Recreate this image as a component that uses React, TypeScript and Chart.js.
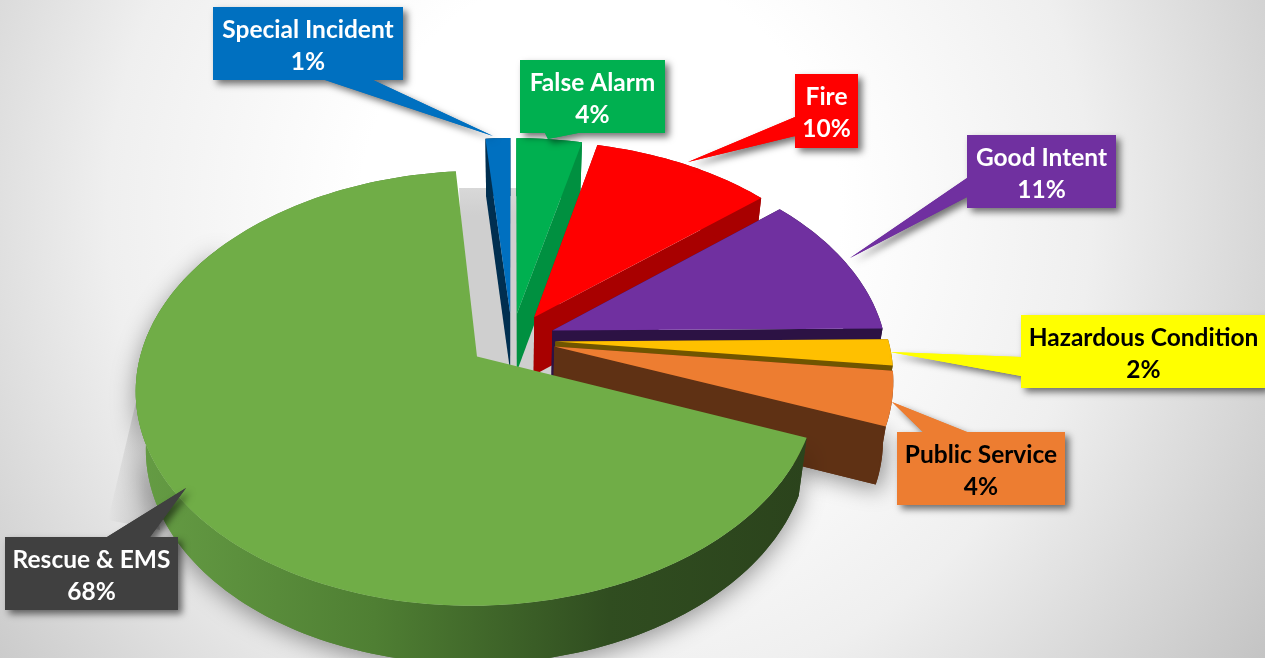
import React, { useEffect, useRef } from "react";
import { Chart, registerables } from "chart.js";

Chart.register(...registerables);

const categories = ["Special Incident", "False Alarm", "Fire", "Good Intent", "Hazardous Condition", "Public Service", "Rescue & EMS"];
const shares = [1.4, 3.7, 10.2, 11.1, 2, 4.1, 68.2];
const faceColors = ["#0070c0", "#00b050", "#ff0000", "#7030a0", "#ffc000", "#ed7d31", "#70ad47"];
const wallColors = ["#002f50", "#009040", "#a80000", "#2c1244", "#705500", "#5f3114", "#2c441c"];
const labelColors = ["#0070c0", "#00b050", "#ff0000", "#7030a0", "#ffff00", "#ed7d31", "#404040"];
const textColors = ["#ffffff", "#ffffff", "#ffffff", "#ffffff", "#000000", "#000000", "#ffffff"];
const explodePercent = [13, 13, 13, 13, 13, 13, 13];

// [left, top, right, bottom, baseAx, baseAy, baseBx, baseBy, tipX, tipY]
const calloutGeometry = [
  [213, 7, 403, 80, 325, 80, 373, 80, 493, 136],
  [520, 60, 665, 133, 545, 133, 578, 133, 548, 139],
  [795, 74, 858, 148, 795, 117, 795, 136, 688, 162],
  [967, 135, 1116, 208, 967, 178, 967, 197, 850, 258],
  [1021, 315, 1265, 388, 1021, 357, 1021, 376, 890, 352],
  [897, 432, 1065, 505, 923, 432, 967, 432, 892, 402],
  [5, 537, 178, 610, 107, 537, 150, 537, 186, 488],
];

const VIEW = { cx: 512, cy: 340, rx: 333, ry: 208, persp: 0.145, depth: 58, converge: 0.973 };

type Pt = [number, number];

function project(u: number, v: number): Pt {
  const s = 1 / (1 - VIEW.persp * v);
  return [VIEW.cx + VIEW.rx * u * s, VIEW.cy + VIEW.ry * v * s];
}
function lower(p: Pt): Pt {
  return [VIEW.cx + (p[0] - VIEW.cx) * VIEW.converge, p[1] + VIEW.depth];
}
function poly(ctx: CanvasRenderingContext2D, pts: Pt[]) {
  ctx.beginPath();
  pts.forEach((p, i) => (i ? ctx.lineTo(p[0], p[1]) : ctx.moveTo(p[0], p[1])));
  ctx.closePath();
}

const pie3d = {
  id: "pie3d",
  beforeDraw(chart: any) {
    const { ctx, width, height } = chart;
    ctx.save();
    const g = ctx.createRadialGradient(600, 210, 240, 600, 210, 800);
    g.addColorStop(0, "#ffffff");
    g.addColorStop(0.45, "#efefef");
    g.addColorStop(1, "#c4c4c4");
    ctx.fillStyle = g;
    ctx.fillRect(0, 0, width, height);
    // soft floor shade left of the pie
    const s = ctx.createLinearGradient(108, 0, 145, 0);
    s.addColorStop(0, "rgba(170,170,170,0)");
    s.addColorStop(1, "rgba(170,170,170,0.55)");
    ctx.fillStyle = s;
    poly(ctx, [[140, 385], [160, 530], [108, 520]]);
    ctx.fill();
    // floor seen through the gaps between the exploded slices
    const f = ctx.createLinearGradient(0, 188, 0, 215);
    f.addColorStop(0, "#d8d8d8");
    f.addColorStop(1, "#cfcfcf");
    ctx.fillStyle = f;
    poly(ctx, [[459, 188], [600, 188], [600, 400], [470, 400]]);
    ctx.fill();
    ctx.restore();
  },
  beforeDatasetsDraw(chart: any) {
    const { ctx } = chart;
    const arcs = chart.getDatasetMeta(0).data;
    ctx.save();
    arcs.forEach((arc: any, i: number) => {
      const { startAngle, endAngle } = arc.getProps(["startAngle", "endAngle"], true);
      const d = explodePercent[i] / 100;
      const mid = (startAngle + endAngle) / 2;
      const ou = d * Math.cos(mid);
      const ov = d * Math.sin(mid);
      const n = Math.max(6, Math.ceil((endAngle - startAngle) * 40));
      const rim: Pt[] = [];
      for (let k = 0; k <= n; k++) {
        const t = startAngle + ((endAngle - startAngle) * k) / n;
        rim.push(project(ou + Math.cos(t), ov + Math.sin(t)));
      }
      const apex = project(ou, ov);
      const rimLow = rim.map(lower);
      const apexLow = lower(apex);

      let rimFill: any = wallColors[i];
      if (i === arcs.length - 1) {
        const g = ctx.createLinearGradient(140, 0, 810, 0);
        g.addColorStop(0, "#659c44");
        g.addColorStop(0.35, "#4f7f33");
        g.addColorStop(0.7, "#304d20");
        g.addColorStop(1, "#2b431c");
        rimFill = g;
        // soft cast shadow, hidden under the face along its straight edges
        ctx.save();
        ctx.shadowColor = "rgba(0,0,0,0.4)";
        ctx.shadowBlur = 24;
        ctx.shadowOffsetY = 6;
        ctx.fillStyle = rimFill;
        poly(ctx, [...rim.slice(0, Math.floor(n * 0.8)), ...rimLow.slice(0, Math.floor(n * 0.8)).reverse()]);
        ctx.fill();
        ctx.restore();
      } else if (i === arcs.length - 2) {
        ctx.save();
        ctx.shadowColor = "rgba(0,0,0,0.4)";
        ctx.shadowBlur = 22;
        ctx.shadowOffsetX = 4;
        ctx.shadowOffsetY = 6;
        ctx.fillStyle = wallColors[i];
        poly(ctx, [apexLow, ...rimLow]);
        ctx.fill();
        ctx.restore();
      }

      ctx.fillStyle = wallColors[i];
      if (i < arcs.length - 1) {
        poly(ctx, [apex, rim[0], rimLow[0], apexLow]);
        ctx.fill();
        poly(ctx, [apex, rim[n], rimLow[n], apexLow]);
        ctx.fill();
      }
      ctx.fillStyle = rimFill;
      poly(ctx, [...rim, ...rimLow.slice().reverse()]);
      ctx.fill();

      ctx.fillStyle = faceColors[i];
      poly(ctx, [apex, ...rim]);
      ctx.fill();
    });
    ctx.restore();
  },
  beforeDatasetDraw() {
    return false;
  },
  afterDraw(chart: any) {
    const { ctx } = chart;
    ctx.save();
    categories.forEach((name, i) => {
      const [l, t, r, b, ax, ay, bx, by, tx, ty] = calloutGeometry[i];
      ctx.beginPath();
      ctx.rect(l, t, r - l, b - t);
      const area = (bx - ax) * (ty - ay) - (by - ay) * (tx - ax);
      ctx.moveTo(tx, ty);
      if (area > 0) {
        ctx.lineTo(ax, ay);
        ctx.lineTo(bx, by);
      } else {
        ctx.lineTo(bx, by);
        ctx.lineTo(ax, ay);
      }
      ctx.closePath();
      ctx.save();
      ctx.shadowColor = "rgba(0,0,0,0.55)";
      ctx.shadowBlur = 7;
      ctx.shadowOffsetX = 4;
      ctx.shadowOffsetY = 4;
      ctx.fillStyle = labelColors[i];
      ctx.fill();
      ctx.restore();
      ctx.fillStyle = labelColors[i];
      ctx.fill();

      ctx.fillStyle = textColors[i];
      ctx.font = "bold 24.5px Lato";
      ctx.textAlign = "center";
      ctx.textBaseline = "middle";
      const c = i === 4 ? (l + 1266) / 2 : (l + r) / 2;
      ctx.fillText(name, c, t + 23);
      ctx.fillText(`${Math.round(shares[i])}%`, c, t + 55);
    });
    ctx.restore();
  },
};

export default function App() {
  const ref = useRef<HTMLCanvasElement>(null);
  useEffect(() => {
    document.body.style.margin = "0";
    const chart = new Chart(ref.current as HTMLCanvasElement, {
      type: "pie",
      data: {
        labels: categories,
        datasets: [{ data: shares, backgroundColor: faceColors, borderWidth: 0, offset: explodePercent }],
      },
      options: {
        animation: false,
        responsive: false,
        rotation: -5,
        plugins: { legend: { display: false }, tooltip: { enabled: false } },
      },
      plugins: [pie3d],
    } as any);
    return () => chart.destroy();
  }, []);
  return <canvas ref={ref} width={1265} height={658} style={{ position: "fixed", left: 0, top: 0 }} />;
}
